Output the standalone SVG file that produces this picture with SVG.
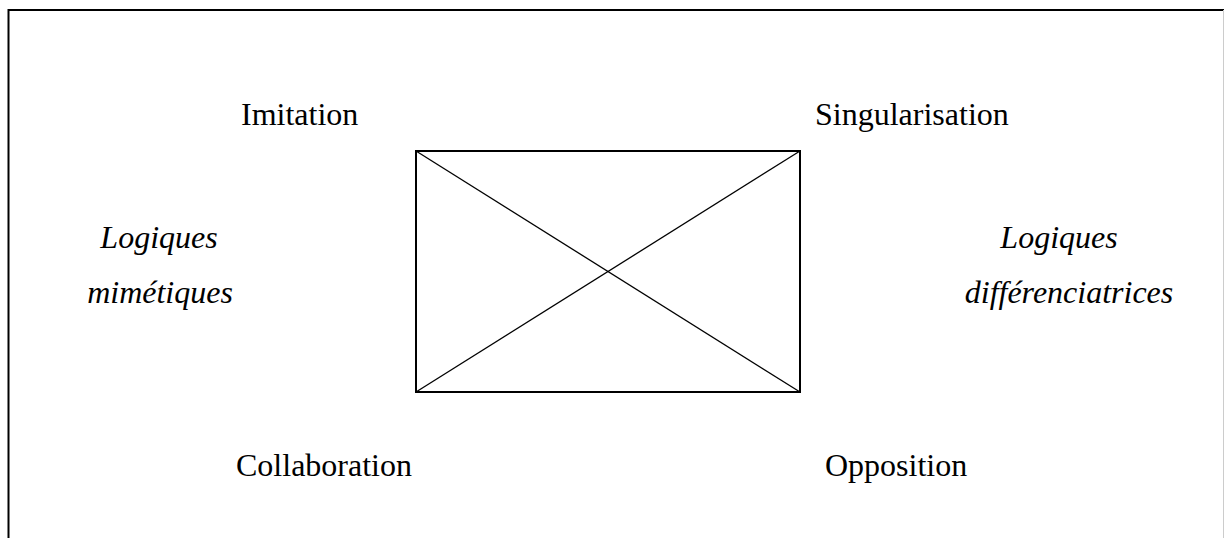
<svg xmlns="http://www.w3.org/2000/svg" width="1224" height="538" viewBox="0 0 1224 538">
<style>
.t{font-family:"Liberation Serif","Times New Roman",serif;font-size:32px;fill:#000}
.i{font-style:italic}
.frame{fill:none;stroke:#000;stroke-width:2}
.box{fill:none;stroke:#000;stroke-width:2}
.diag{stroke:#000;stroke-width:1.3}
</style>
<rect width="1224" height="538" fill="#fff"/>
<path class="frame" d="M8.5 538 V10 H1224"/>
<line x1="1223.5" y1="10" x2="1223.5" y2="538" stroke="#ccc" stroke-width="1"/>
<g id="center-box">
<rect class="box" x="416" y="151" width="384" height="241"/>
</g>
<g id="connectors">
<line class="diag" x1="416" y1="151" x2="800" y2="392"/>
<line class="diag" x1="800" y1="151" x2="416" y2="392"/>
</g>
<g id="imitation"><text class="t" x="241" y="125">Imitation</text></g>
<g id="singularisation"><text class="t" x="815" y="125">Singularisation</text></g>
<g id="logiques-mimetiques"><text class="t i" x="159" y="248" text-anchor="middle">Logiques</text><text class="t i" x="160" y="303" text-anchor="middle">mimétiques</text></g>
<g id="logiques-differenciatrices"><text class="t i" x="1059" y="248" text-anchor="middle">Logiques</text><text class="t i" x="1069" y="303" text-anchor="middle">différenciatrices</text></g>
<g id="collaboration"><text class="t" x="236" y="476">Collaboration</text></g>
<g id="opposition"><text class="t" x="825" y="476">Opposition</text></g>
</svg>
